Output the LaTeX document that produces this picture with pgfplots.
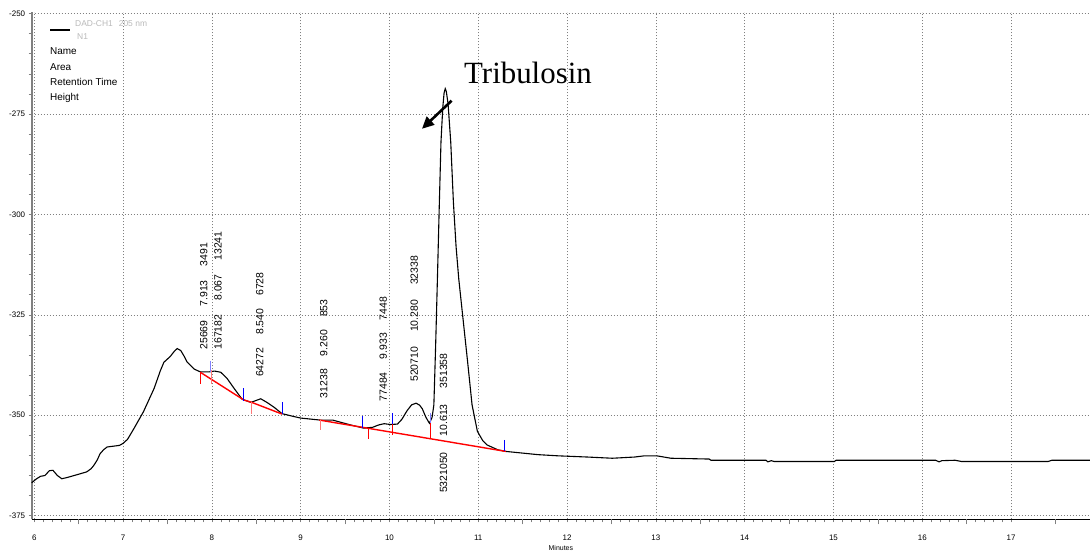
\documentclass[border=0pt]{standalone}
\usepackage{fontspec}
\setmainfont{Liberation Sans}
\newfontfamily\serif{Liberation Serif}
\usepackage{pgfplots}
\pgfplotsset{compat=1.18}
\usetikzlibrary{arrows.meta}
\definecolor{pinkred}{RGB}{255,120,120}
\definecolor{paleblue}{RGB}{130,130,255}
\definecolor{leggray}{RGB}{185,185,185}

\begin{document}
\begin{tikzpicture}
\begin{axis}[
  name=ax,
  scale only axis, width=1058.3bp, height=507bp,
  xmin=5.971, xmax=17.889, ymin=-375.9, ymax=-249.7,
  axis x line*=bottom, axis y line*=left,
  x axis line style={black, line width=1.6bp},
  y axis line style={gray, line width=1.6bp},
  xtick={6,...,17}, minor x tick num=9,
  extra x ticks={6.5,7.5,8.5,9.5,10.5,11.5,12.5,13.5,14.5,15.5,16.5,17.5},
  extra x tick labels={},
  extra x tick style={grid=none, major tick length=5bp},
  ytick={-375,-350,-325,-300,-275,-250},
  yticklabels={-375,-350,-325,-300,-275,-250},
  minor y tick num=4,
  tick align=outside, major tick length=3bp, minor tick length=3bp,
  tick style={gray, line width=0.5bp},
  grid=major, grid style={gray, line width=0.6bp, dash pattern=on 1.5bp off 1.5bp},
  ticklabel style={font=\fontsize{8}{9}\selectfont},
  xticklabel style={yshift=-9bp},
  /pgf/number format/assume math mode=true,
  xlabel={Minutes},
  xlabel style={font=\fontsize{7}{8}\selectfont, at={(axis description cs:0.5,0)}, anchor=center, yshift=-29bp},
  clip=false,
]
% chromatogram trace
\addplot[black, line width=1.1bp] coordinates {
(5.971,-366.8) (6.02,-365.9) (6.07,-365.2) (6.12,-365.0) (6.17,-363.8) (6.21,-363.7)
(6.26,-365.0) (6.31,-365.8) (6.37,-365.5) (6.48,-364.8) (6.59,-364.1) (6.64,-363.3)
(6.67,-362.5) (6.71,-361.1) (6.74,-359.6) (6.78,-358.6) (6.82,-357.9) (6.89,-357.7)
(6.96,-357.5) (7.00,-357.0) (7.05,-356.0) (7.12,-353.4) (7.23,-349.1) (7.35,-343.3)
(7.42,-338.9) (7.46,-336.8) (7.53,-335.4) (7.58,-334.0) (7.61,-333.4) (7.65,-333.9)
(7.69,-335.4) (7.72,-336.7) (7.80,-338.5) (7.87,-339.2) (7.97,-339.2) (8.03,-339.0)
(8.10,-339.3) (8.17,-340.8) (8.25,-343.3) (8.30,-344.8) (8.34,-346.0) (8.44,-346.8)
(8.50,-346.3) (8.55,-345.9) (8.62,-346.8) (8.70,-348.0) (8.79,-349.6) (8.92,-350.3)
(9.00,-350.7) (9.22,-351.2) (9.36,-351.2) (9.46,-351.8) (9.56,-352.4) (9.71,-353.2)
(9.81,-353.0) (9.88,-352.4) (9.94,-352.1) (10.01,-352.3) (10.09,-352.2) (10.14,-351.0)
(10.20,-348.8) (10.25,-347.4) (10.30,-347.0) (10.34,-347.5) (10.37,-348.4) (10.41,-350.5)
(10.45,-352.0) (10.48,-350.5) (10.50,-347.4) (10.52,-332.6) (10.54,-316.0) (10.56,-298.6)
(10.58,-282.0) (10.60,-273.5) (10.615,-269.8) (10.628,-268.7) (10.64,-269.4) (10.66,-272.5)
(10.69,-282.0) (10.72,-297.0) (10.75,-308.0) (10.78,-316.0) (10.82,-324.3) (10.88,-336.7)
(10.93,-347.4) (10.99,-354.0) (11.05,-356.3) (11.10,-357.4) (11.22,-358.6) (11.31,-359.0)
(11.49,-359.4) (11.67,-359.8) (11.90,-360.1) (12.23,-360.4) (12.51,-360.7) (12.76,-360.4)
(12.87,-360.1) (13.01,-360.1) (13.17,-360.7) (13.60,-360.9) (13.62,-361.2) (14.24,-361.2)
(14.26,-361.6) (14.30,-361.3) (14.33,-361.5) (15.01,-361.5) (15.03,-361.2) (16.15,-361.2)
(16.19,-361.6) (16.22,-361.3) (16.37,-361.2) (16.44,-361.5) (17.42,-361.5) (17.46,-361.2)
(17.889,-361.2)
};
% integration baselines
\addplot[red, line width=1.4bp] coordinates {(7.87,-339.3) (8.36,-346.2) (8.45,-346.8) (8.79,-349.7)};
\addplot[red, line width=1.4bp] coordinates {(9.21,-351.2) (11.31,-359.0)};
% peak start/end marks
\addplot[red, line width=0.9bp] coordinates {(7.87,-339.3) (7.87,-342.1)};
\addplot[pinkred, line width=0.9bp] coordinates {(7.99,-338.8) (7.99,-342.1)};
\addplot[pinkred, line width=0.9bp] coordinates {(8.45,-346.8) (8.45,-349.7)};
\addplot[pinkred, line width=0.9bp] coordinates {(9.22,-351.2) (9.22,-353.7)};
\addplot[red, line width=0.9bp] coordinates {(9.76,-353.2) (9.76,-355.9)};
\addplot[red, line width=0.9bp] coordinates {(10.03,-352.0) (10.03,-354.9)};
\addplot[red, line width=1.4bp] coordinates {(10.46,-352.0) (10.46,-355.9)};
\addplot[paleblue, line width=0.9bp] coordinates {(7.98,-336.4) (7.98,-339.2)};
\addplot[blue, line width=0.9bp] coordinates {(8.35,-343.3) (8.35,-346.4)};
\addplot[blue, line width=0.9bp] coordinates {(8.79,-346.8) (8.79,-349.7)};
\addplot[blue, line width=0.9bp] coordinates {(9.70,-350.3) (9.70,-353.2)};
\addplot[blue, line width=0.9bp] coordinates {(10.03,-349.5) (10.03,-352.1)};
\addplot[paleblue, line width=0.9bp] coordinates {(10.46,-349.5) (10.46,-352.0)};
\addplot[blue, line width=0.9bp] coordinates {(11.30,-356.1) (11.30,-359.0)};
% arrow to main peak
\addplot[black, line width=2.6bp, -{Triangle[length=12bp,width=11bp]}] coordinates {(10.70,-271.7) (10.366,-278.7)};

% peak annotations: area, retention time, height
\tikzset{pk/.style={rotate=90, anchor=west, inner sep=0pt, font=\fontsize{10.5}{11}\selectfont}}
\node[pk] at (axis cs:7.91,-333.7) {25669\hspace{14bp}7.913\hspace{14bp}3491};
\node[pk] at (axis cs:8.07,-333.7) {167182\hspace{14bp}8.067\hspace{14bp}13241};
\node[pk] at (axis cs:8.54,-340.5) {64272\hspace{13bp}8.540\hspace{13bp}6728};
\node[pk] at (axis cs:9.26,-345.8) {31238\hspace{13bp}9.260\hspace{13bp}853};
\node[pk] at (axis cs:9.93,-346.6) {77484\hspace{13bp}9.933\hspace{13bp}7448};
\node[pk] at (axis cs:10.28,-341.7) {520710\hspace{15bp}10.280\hspace{15bp}32338};
\node[pk] at (axis cs:10.61,-369.4) {5321050\hspace{16bp}10.613\hspace{16bp}351358};
\node[anchor=base, inner sep=0pt, font=\serif\fontsize{31}{33}\selectfont] at (axis cs:11.56,-267.5) {Tribulosin};
\end{axis}

% legend block
\draw[black, line width=1.5bp] ([shift={(18.3bp,-17.7bp)}]ax.north west) -- ++(20bp,0);
\node[anchor=west, inner sep=0pt, text=leggray, font=\fontsize{8.5}{9}\selectfont] at ([shift={(43.3bp,-11.7bp)}]ax.north west) {DAD-CH1\hspace{6bp}205 nm};
\node[anchor=west, inner sep=0pt, text=leggray, font=\fontsize{8.5}{9}\selectfont] at ([shift={(45.3bp,-24.7bp)}]ax.north west) {N1};
\begin{scope}[every node/.style={anchor=west, inner sep=0pt, font=\fontsize{10}{11}\selectfont}]
\node at ([shift={(18.3bp,-39bp)}]ax.north west) {Name};
\node at ([shift={(18.3bp,-54.7bp)}]ax.north west) {Area};
\node at ([shift={(18.3bp,-69.7bp)}]ax.north west) {Retention Time};
\node at ([shift={(18.3bp,-85.7bp)}]ax.north west) {Height};
\end{scope}

\pgfresetboundingbox
\path ([shift={(-31.7bp,-38.7bp)}]ax.south west) rectangle ([shift={(0bp,12.3bp)}]ax.north east);
\end{tikzpicture}
\end{document}
